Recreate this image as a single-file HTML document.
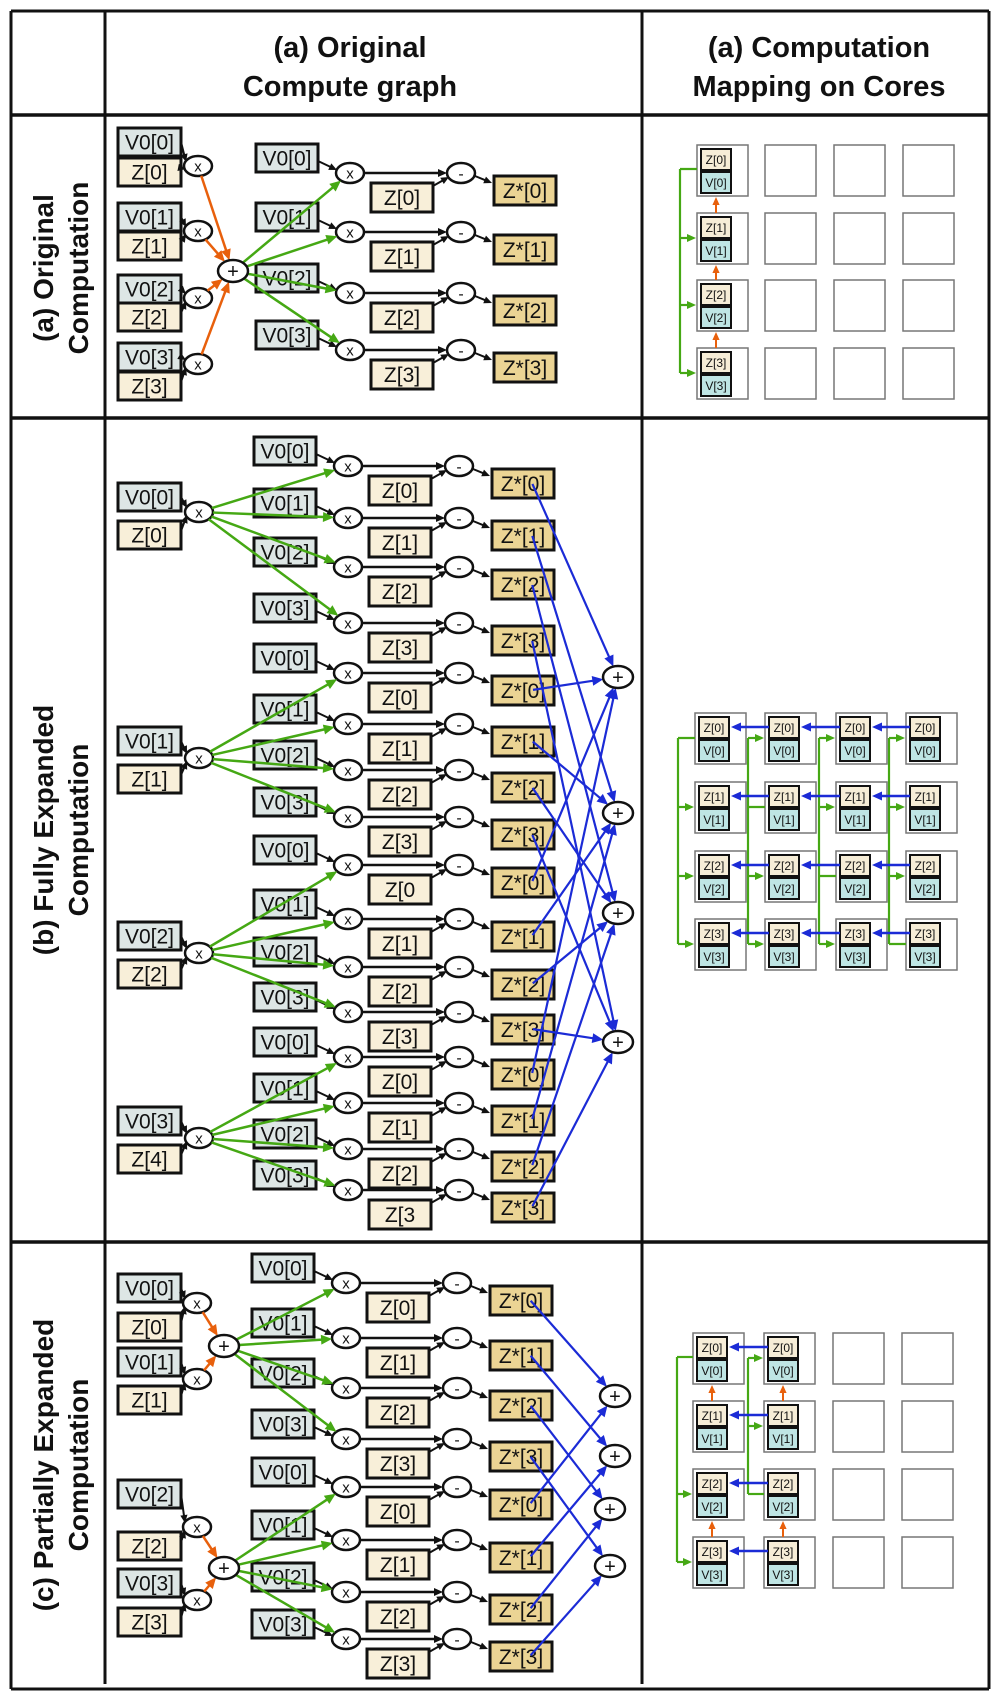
<!DOCTYPE html>
<html><head><meta charset="utf-8"><style>
html,body{margin:0;padding:0;background:#fff;}
svg{display:block;}
text{font-family:"Liberation Sans",sans-serif;}
</style></head><body>
<div id="c"></div>
<script>
let s='';
const G='#45a814',O='#e8600c',B='#1b2bd6';
function ln(x1,y1,x2,y2,c,w){s+=`<line x1="${x1}" y1="${y1}" x2="${x2}" y2="${y2}" stroke="${c}" stroke-width="${w}"/>`;}
function arrow(x1,y1,x2,y2,c,w,h){const dx=x2-x1,dy=y2-y1,L=Math.hypot(dx,dy),ux=dx/L,uy=dy/L;h=h||9;const bx=x2-ux*h,by=y2-uy*h,hw=h*0.45;
ln(x1,y1,bx+ux*1,by+uy*1,c,w);s+=`<polygon points="${x2},${y2} ${bx-uy*hw},${by+ux*hw} ${bx+uy*hw},${by-ux*hw}" fill="${c}"/>`;}
function edge(cx,cy,rx,ry,fx,fy){const dx=fx-cx,dy=fy-cy,t=1/Math.sqrt((dx/rx)**2+(dy/ry)**2);return [cx+dx*t,cy+dy*t];}
function box(x,y,w,h,fill,label,fs,sw){sw=sw||3;s+=`<rect x="${x}" y="${y}" width="${w}" height="${h}" fill="${fill}" stroke="#111" stroke-width="${sw}"/>`;
s+=`<text x="${x+w/2}" y="${y+h/2+fs*0.36}" font-size="${fs}" text-anchor="middle" fill="#111">${label}</text>`;}
function ell(cx,cy,rx,ry,label,fs){s+=`<ellipse cx="${cx}" cy="${cy}" rx="${rx}" ry="${ry}" fill="#fff" stroke="#111" stroke-width="2.5"/>`;
s+=`<text x="${cx}" y="${cy+fs*0.36}" font-size="${fs}" text-anchor="middle" fill="#111">${label}</text>`;}
const VC='#dde6e5',ZC='#f8efd9',ZS='#ebd494';
// middle unit
function unit(yc,dx,v,z,zs){
 box(256+dx,yc-29,62,28,VC,v,21);
 arrow(318+dx,yc-12,337+dx,yc-3,'#111',2,8);
 ell(350+dx,yc,14,10,'x',15);
 arrow(364+dx,yc,447+dx,yc,'#111',2.5,9);
 box(371+dx,yc+10,62,29,ZC,z,21);
 arrow(433+dx,yc+13,449+dx,yc+4,'#111',2,8);
 ell(461+dx,yc,14,10,'-',16);
 arrow(475+dx,yc+3,492+dx,yc+10,'#111',2,8);
 box(494+dx,yc+3,62,29,ZS,zs,21);
}
function src(vy,zy,cy,v,z,cx){
 box(118,vy,63,28,VC,v,21);box(118,zy,63,28,ZC,z,21);
 arrow(181,vy+14,cx-12,cy-4,'#111',2,8);arrow(181,zy+10,cx-12,cy+3,'#111',2,8);
 ell(cx,cy,14,10,'x',15);
}
function conn(ax,ay,arx,ary,bx,by,brx,bry,c,w){const p=edge(ax,ay,arx,ary,bx,by),q=edge(bx,by,brx,bry,ax,ay);arrow(p[0],p[1],q[0],q[1],c,w,11);}
// ROW 1
const r1=[173,232,293,350];
const r1l=[[128,158,166],[203,232,231],[275,303,298],[343,372,364]];
r1l.forEach((a,k)=>src(a[0],a[1],a[2],`V0[${k}]`,`Z[${k}]`,198));
r1.forEach((y,k)=>unit(y,0,`V0[${k}]`,`Z[${k}]`,`Z*[${k}]`));
r1l.forEach(a=>conn(198,a[2],14,10,233,271,15,11,O,2.5));
r1.forEach(y=>conn(233,271,15,11,350,y,14,10,G,2.5));
ell(233,271,15,11,'+',20);
// ROW 2
const r2=[466,518,567,623,673,724,770,817,865,919,967,1012,1057,1103,1149,1190];
const r2l=[[483,521,512,'V0[0]','Z[0]'],[727,765,758,'V0[1]','Z[1]'],[922,960,953,'V0[2]','Z[2]'],[1107,1145,1138,'V0[3]','Z[4]']];
const p2=[677,813,913,1042];
r2.forEach((y,i)=>{const g=Math.floor(i/4),k=i%4;let z=`Z[${k}]`;if(g==2&&k==0)z='Z[0';if(g==3&&k==3)z='Z[3';unit(y,-2,`V0[${k}]`,z,`Z*[${k}]`);});
r2l.forEach((a,g)=>{src(a[0],a[1],a[2],a[3],a[4],199);for(let k=0;k<4;k++)conn(199,a[2],14,10,348,r2[g*4+k],14,10,G,2.5);});
r2.forEach((y,i)=>{const k=i%4;conn(532,y+17,1,1,618,p2[k],15,11,B,2.2);});
p2.forEach(y=>ell(618,y,15,11,'+',20));
// ROW 3
const r3=[1283,1338,1388,1439,1487,1540,1592,1639];
r3.forEach((y,i)=>{const k=i%4;unit(y,-4,`V0[${k}]`,`Z[${k}]`,`Z*[${k}]`);});
const r3l=[[1274,1313,1303,0],[1348,1386,1379,1],[1480,1532,1527,2],[1569,1608,1600,3]];
r3l.forEach(a=>src(a[0],a[1],a[2],`V0[${a[3]}]`,`Z[${a[3]}]`,197));
const pl3=[1346,1568];
r3l.forEach((a,i)=>conn(197,a[2],14,10,224,pl3[Math.floor(i/2)],15,11,O,2.5));
for(let g=0;g<2;g++)for(let k=0;k<4;k++)conn(224,pl3[g],15,11,346,r3[g*4+k],14,10,G,2.5);
pl3.forEach(y=>ell(224,y,15,11,'+',20));
const p3=[[615,1396],[615,1456],[610,1509],[610,1566]];
r3.forEach((y,i)=>{const k=i%4;conn(530,y+17,1,1,p3[k][0],p3[k][1],15,11,B,2.2);});
p3.forEach(p=>ell(p[0],p[1],15,11,'+',20));
// CORES
function core(x,y,f,k){s+=`<rect x="${x}" y="${y}" width="51" height="51" fill="#fff" stroke="#777" stroke-width="1.5"/>`;
 if(f){box(x+4,y+4,30,21,'#f6edd7',`Z[${k}]`,12,2);box(x+4,y+27,30,21,'#bfe5e4',`V[${k}]`,12,2);}}
function grid(cx,ry,nf){for(let r=0;r<4;r++)for(let c=0;c<4;c++)core(cx[c],ry[r],c<nf,r);}
// row1 cores
let cx=[697,765,834,903],ry=[145,213,280,348];
grid(cx,ry,1);
ln(697,169,680,169,G,2.2);ln(680,169,680,373,G,2.2);
[1,2,3].forEach(r=>arrow(680,ry[r]+25,696,ry[r]+25,G,2.2,9));
[0,1,2].forEach(r=>arrow(716,ry[r+1],716,ry[r]+52,O,2,8));
// row2 cores
cx=[695,765,836,906];ry=[713,782,851,919];
grid(cx,ry,4);
for(let j=0;j<4;j++){const xl=cx[j]-17;ln(cx[j],ry[j]+25,xl,ry[j]+25,G,2.2);ln(xl,ry[0]+25,xl,ry[3]+25,G,2.2);
 for(let r=0;r<4;r++)if(r!=j)arrow(xl,ry[r]+25,cx[j]-1,ry[r]+25,G,2.2,9);}
for(let r=0;r<4;r++)for(let j=0;j<3;j++)arrow(cx[j+1]+4,ry[r]+14,cx[j]+36,ry[r]+14,B,2.5,10);
// row3 cores
cx=[693,764,833,902];ry=[1333,1401,1469,1537];
grid(cx,ry,2);
ln(693,1357,677,1357,G,2.2);ln(677,1357,677,ry[3]+25,G,2.2);
[2,3].forEach(r=>arrow(677,ry[r]+25,692,ry[r]+25,G,2.2,9));
ln(764,ry[2]+25,748,ry[2]+25,G,2.2);ln(748,ry[0]+25,748,ry[2]+25,G,2.2);
[0,1].forEach(r=>arrow(748,ry[r]+25,763,ry[r]+25,G,2.2,9));
[0,1].forEach(c=>{arrow(cx[c]+19,ry[1],cx[c]+19,ry[0]+52,O,2,8);arrow(cx[c]+19,ry[3],cx[c]+19,ry[2]+52,O,2,8);});
for(let r=0;r<4;r++)arrow(cx[1]+4,ry[r]+14,cx[0]+36,ry[r]+14,B,2.5,10);
// TABLE
ln(11,11,989,11,'#111',3);ln(11,1689,989,1689,'#111',3);ln(11,11,11,1689,'#111',3);ln(989,11,989,1689,'#111',3);
ln(105,11,105,1684,'#111',3);ln(642,11,642,1684,'#111',3);
ln(11,115,989,115,'#111',3.5);ln(11,418,989,418,'#111',3.5);ln(11,1242,989,1242,'#111',3.5);
function ht(x,y,t){s+=`<text x="${x}" y="${y}" font-size="29" font-weight="bold" text-anchor="middle" fill="#111">${t}</text>`;}
ht(350,57,'(a) Original');ht(350,96,'Compute graph');ht(819,57,'(a) Computation');ht(819,96,'Mapping on Cores');
function vt(cy,a,b){s+=`<g transform="translate(58,${cy}) rotate(-90)"><text x="0" y="-5" font-size="28" font-weight="bold" text-anchor="middle" fill="#111">${a}</text><text x="0" y="30" font-size="28" font-weight="bold" text-anchor="middle" fill="#111">${b}</text></g>`;}
vt(268,'(a) Original','Computation');vt(830,'(b) Fully Expanded','Computation');vt(1465,'(c) Partially Expanded','Computation');
document.getElementById('c').innerHTML=`<svg xmlns="http://www.w3.org/2000/svg" width="997" height="1695" viewBox="0 0 997 1695">${s}</svg>`;
</script>
</body></html>
